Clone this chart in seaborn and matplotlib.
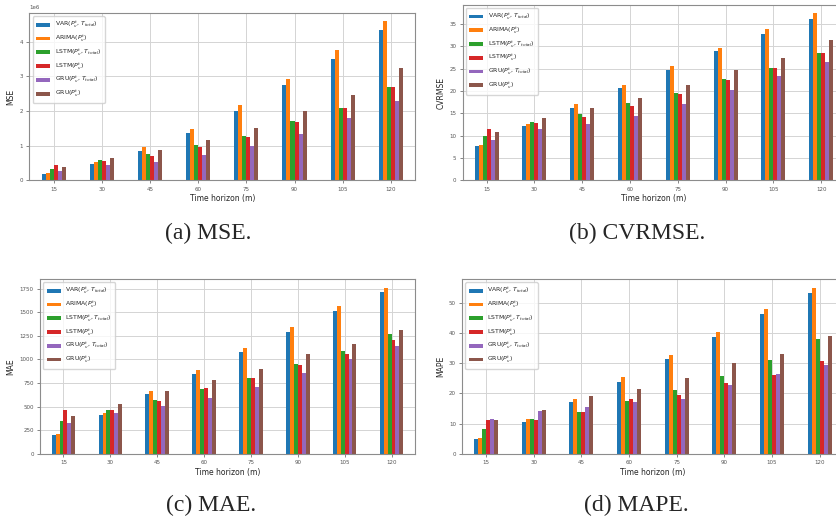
import pandas as pd
import matplotlib
matplotlib.use("Agg")
import matplotlib.pyplot as plt
from matplotlib.ticker import MultipleLocator
import seaborn as sns

# Time horizons (minutes) and models
horizons = [15, 30, 45, 60, 75, 90, 105, 120]
models = [r"VAR($P^t_v$, $T_{total}$)", r"ARIMA($P^t_v$)",
          r"LSTM($P^t_v$, $T_{total}$)", r"LSTM($P^t_v$)",
          r"GRU($P^t_v$, $T_{total}$)", r"GRU($P^t_v$)"]

# one row per model, one value per horizon
mse = [
    [0.18e6, 0.48e6, 0.86e6, 1.37e6, 2.01e6, 2.74e6, 3.50e6, 4.33e6],
    [0.20e6, 0.52e6, 0.95e6, 1.49e6, 2.16e6, 2.93e6, 3.75e6, 4.59e6],
    [0.33e6, 0.58e6, 0.75e6, 1.01e6, 1.27e6, 1.70e6, 2.10e6, 2.68e6],
    [0.45e6, 0.56e6, 0.70e6, 0.95e6, 1.24e6, 1.67e6, 2.08e6, 2.68e6],
    [0.27e6, 0.45e6, 0.53e6, 0.72e6, 0.98e6, 1.34e6, 1.80e6, 2.30e6],
    [0.38e6, 0.64e6, 0.87e6, 1.16e6, 1.52e6, 2.01e6, 2.46e6, 3.24e6],
]
cvrmse = [
    [7.7, 12.1, 16.3, 20.6, 24.7, 28.9, 32.7, 36.2],
    [7.8, 12.6, 17.0, 21.3, 25.6, 29.7, 33.8, 37.4],
    [9.9, 13.1, 14.9, 17.3, 19.6, 22.6, 25.2, 28.6],
    [11.4, 12.8, 14.2, 16.7, 19.3, 22.5, 25.1, 28.6],
    [9.0, 11.6, 12.6, 14.5, 17.1, 20.2, 23.4, 26.4],
    [10.8, 13.9, 16.1, 18.5, 21.3, 24.6, 27.3, 31.4],
]
mae = [
    [200, 415, 630, 850, 1075, 1290, 1510, 1715],
    [215, 430, 665, 890, 1120, 1345, 1560, 1760],
    [345, 465, 575, 690, 805, 955, 1090, 1270],
    [470, 470, 560, 695, 800, 940, 1060, 1210],
    [330, 435, 505, 595, 710, 860, 1005, 1140],
    [405, 525, 665, 780, 895, 1055, 1160, 1310],
]
mape = [
    [4.8, 10.7, 17.1, 23.9, 31.3, 38.7, 46.3, 53.2],
    [5.4, 11.5, 18.2, 25.4, 32.8, 40.3, 47.8, 55.0],
    [8.1, 11.5, 14.0, 17.4, 21.0, 25.9, 31.1, 38.1],
    [11.1, 11.3, 14.0, 18.2, 19.6, 23.3, 26.2, 30.9],
    [11.7, 14.1, 15.5, 17.1, 18.3, 22.7, 26.4, 29.4],
    [11.1, 14.7, 19.1, 21.6, 25.0, 30.2, 33.1, 38.9],
]


def long_table(values):
    rows = []
    for m, vals in zip(models, values):
        for h, v in zip(horizons, vals):
            rows.append({"horizon": h, "model": m, "value": v})
    return pd.DataFrame(rows)


sns.set_style("whitegrid", {"axes.edgecolor": "#8c8c8c", "grid.color": "#d4d4d4",
                            "xtick.bottom": True, "ytick.left": True})
plt.rcParams.update({
    "font.family": ["DejaVu Sans"],
    "xtick.labelsize": 4, "ytick.labelsize": 4,
    "axes.labelsize": 5.5,
    "xtick.major.size": 2, "ytick.major.size": 2,
    "xtick.major.width": 0.5, "ytick.major.width": 0.5,
    "xtick.color": "#555555", "ytick.color": "#555555",
    "xtick.major.pad": 2.5, "ytick.major.pad": 2.5,
    "axes.linewidth": 0.8, "grid.linewidth": 0.7,
})

fig = plt.figure(figsize=(8.37, 5.22), dpi=100)

panels = [
    (mse, "MSE", "(a) MSE.", [0.0352, 0.6546, 0.4606, 0.3199], 1e6, (208, 233)),
    (cvrmse, "CVRMSE", "(b) CVRMSE.", [0.5528, 0.6546, 0.4568, 0.3358], 5, (637, 233)),
    (mae, "MAE", "(c) MAE.", [0.0478, 0.1303, 0.4480, 0.3347], 250, (211, 505)),
    (mape, "MAPE", "(d) MAPE.", [0.5523, 0.1303, 0.4554, 0.3347], 10, (636, 505)),
]

for values, ylabel, caption, rect, step, (cx, cy) in panels:
    ax = fig.add_axes(rect)
    df = long_table(values)
    sns.barplot(data=df, x="horizon", y="value", hue="model", order=horizons,
                hue_order=models, palette="tab10", saturation=1, width=0.5,
                errorbar=None, linewidth=0, ax=ax)
    ax.set_xlabel("Time horizon (m)", labelpad=2)
    ax.set_ylabel(ylabel, labelpad=3)
    ax.yaxis.set_major_locator(MultipleLocator(step))
    ax.yaxis.get_offset_text().set_fontsize(4)
    ax.grid(True, axis="both")
    ax.set_axisbelow(True)
    ax.legend(loc="upper left", fontsize=4.4, frameon=True, edgecolor="#cccccc",
              labelspacing=0.55, handlelength=2.3, handleheight=0.6, borderpad=0.6,
              handletextpad=0.7)
    fig.text(cx / 837, 1 - cy / 522, caption, ha="center", va="center",
             fontsize=17, family="Liberation Serif")

fig.savefig("out.png", dpi=100)
